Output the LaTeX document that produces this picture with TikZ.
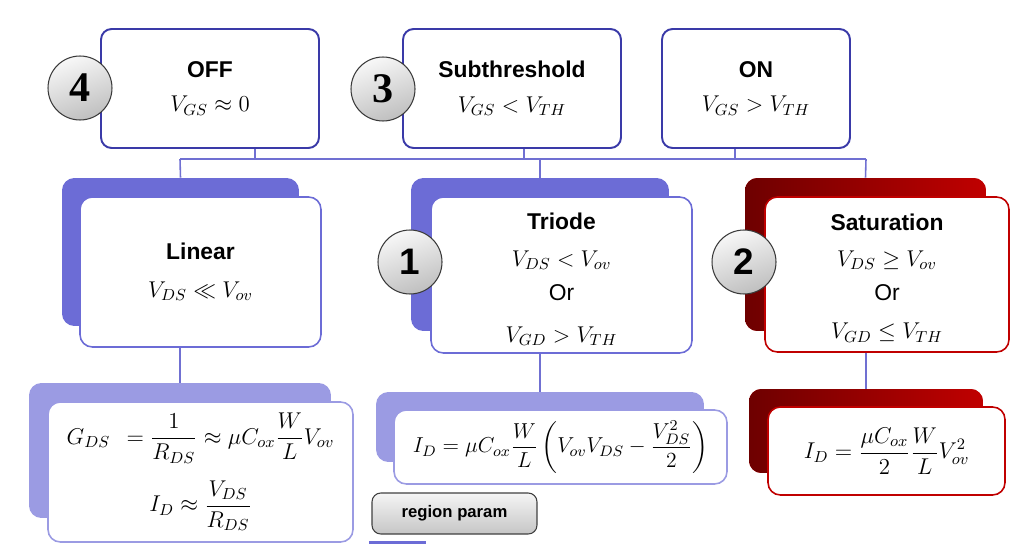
\RequirePackage{fix-cm}
\documentclass[tikz,border=0pt]{standalone}
\usepackage{amsmath, amssymb}
\usepackage[no-math]{fontspec}
\setmainfont{Liberation Sans}
\newfontfamily\numserif{Liberation Serif}
\definecolor{topblue}{RGB}{58,58,168}
\definecolor{linkblue}{RGB}{112,112,210}
\definecolor{midblue}{RGB}{108,108,214}
\definecolor{lavender}{RGB}{155,155,227}
\definecolor{darkred}{RGB}{110,0,0}
\definecolor{satred}{RGB}{192,0,0}

\begin{document}
\begin{tikzpicture}[x=0.02cm, y=-0.02cm,
        top/.style = {draw=topblue, line width=1.1pt, rounded corners=6pt, fill=white, inner sep=0pt,
            align=center, minimum height=2.38cm, font=\fontsize{13}{15.6}\selectfont},
        mid/.style = {draw=#1, line width=0.9pt, rounded corners=7pt, fill=white, inner sep=0pt,
            align=center, font=\fontsize{13}{15.6}\selectfont},
        back/.style = {fill=#1, rounded corners=7pt, inner sep=0pt},
        formula/.style = {draw=#1, line width=0.9pt, rounded corners=7pt, fill=white, inner sep=0pt,
            align=center, font=\fontsize{13}{16}\selectfont},
        num/.style = {circle, draw=gray!45!black, line width=0.6pt, minimum size=1.28cm, inner sep=0pt,
            top color=gray!6, bottom color=gray!50, shading angle=20},
        link/.style = {draw=linkblue, line width=0.9pt}]
        \useasboundingbox (0,0) rectangle (1024,544);

        \node[top, minimum width=4.36cm] (off) at (210,88.5) {\textbf{OFF}\\[4pt]$V_{GS}\approx 0$};
        \node[top, minimum width=4.36cm] (sub) at (512,88.5) {\textbf{Subthreshold}\\[4pt]$V_{GS}<V_{TH}$};
        \node[top, minimum width=3.76cm] (on) at (756,88.5) {\textbf{ON}\\[4pt]$V_{GS}>V_{TH}$};

        \node[back=midblue, minimum width=4.74cm, minimum height=2.96cm] (linS) at (180.5,252) {};
        \node[mid=midblue, minimum width=4.82cm, minimum height=3.0cm] (lin) at (200.5,272)
            {\textbf{Linear}\\[6pt]$V_{DS}\ll V_{ov}$};
        \node[back=midblue, minimum width=5.16cm, minimum height=3.06cm] (triS) at (540,254.5) {};
        \node[mid=midblue, minimum width=5.22cm, minimum height=3.12cm] (tri) at (561.5,275)
            {\rule{0pt}{14.5pt}\textbf{Triode}\\[5pt]$V_{DS}<V_{ov}$\\[4pt]Or\\[8pt]$V_{GD}>V_{TH}$};
        \node[back=satred, left color=darkred, right color=satred, minimum width=4.82cm, minimum height=3.06cm] (satS) at (865.5,254.5) {};
        \node[mid=satred, minimum width=4.88cm, minimum height=3.10cm] (sat) at (887,274.5)
            {\rule{0pt}{13.5pt}\textbf{Saturation}\\[5pt]$V_{DS}\geq V_{ov}$\\[4pt]Or\\[6pt]$V_{GD}\leq V_{TH}$};

        \node[back=lavender, minimum width=6.04cm, minimum height=2.70cm] (linFS) at (180,450.5) {};
        \node[formula=lavender, minimum width=6.10cm, minimum height=2.80cm] (linF) at (200.5,472)
            {$\displaystyle G_{DS}\;\,=\frac{1}{R_{DS}}\approx\mu C_{ox}\frac{W}{L}V_{ov}$\\[9pt]
             $\displaystyle I_D\approx\frac{V_{DS}}{R_{DS}}$};
        \node[back=lavender, minimum width=6.56cm, minimum height=1.40cm] (triFS) at (540,427) {};
        \node[formula=lavender, minimum width=6.66cm, minimum height=1.48cm, font=\fontsize{12.3}{14}\selectfont] (triF) at (560.5,447)
            {$\displaystyle I_D=\mu C_{ox}\frac{W}{L}\left(V_{ov}V_{DS}-\frac{V_{DS}^2}{2}\right)$};
        \node[back=satred, left color=darkred, right color=satred, minimum width=4.68cm, minimum height=1.68cm] (satFS) at (866,431) {};
        \node[formula=satred, minimum width=4.74cm, minimum height=1.76cm] (satF) at (886.5,451)
            {$\displaystyle I_D=\frac{\mu C_{ox}}{2}\frac{W}{L}V_{ov}^2$};

        \node[draw=gray!50!black, line width=0.6pt, rounded corners=5pt, top color=gray!8, bottom color=gray!45,
            minimum width=3.30cm, minimum height=0.82cm, font=\fontsize{9.5}{11}\selectfont\bfseries] (param) at (454.5,513.5) {region param};
        \fill[midblue] (369,541) rectangle (426,544);

        \coordinate (busL) at (180,159);
        \coordinate (busR) at (866,159);
        \draw[link] (busL) -- (busR);
        \draw[link] ([xshift=0.9cm]off.south) -- ([xshift=0.9cm]off.south |- busL);
        \draw[link] ([xshift=0.24cm]sub.south) -- ([xshift=0.24cm]sub.south |- busL);
        \draw[link] ([xshift=-0.42cm]on.south) -- ([xshift=-0.42cm]on.south |- busL);
        \draw[link] (busL) -- (linS.north);
        \draw[link] (triS.north |- busL) -- (triS.north);
        \draw[link] (busR) -- (satS.north);
        \draw[link] (lin.south -| linFS.north) -- (linFS.north);
        \draw[link] (tri.south -| triFS.north) -- (triFS.north);
        \draw[link] (sat.south -| satFS.north) -- (satFS.north);

        \node[num, font=\fontsize{24}{24}\selectfont\numserif\bfseries] (n4) at (80,88) {4};
        \node[num, font=\fontsize{24}{24}\selectfont\numserif\bfseries] (n3) at (383,89) {3};
        \node[num, font=\fontsize{21}{21}\selectfont\bfseries] (n1) at (410,262) {1};
        \node[num, font=\fontsize{21}{21}\selectfont\bfseries] (n2) at (744,262) {2};
    \end{tikzpicture}
\end{document}
